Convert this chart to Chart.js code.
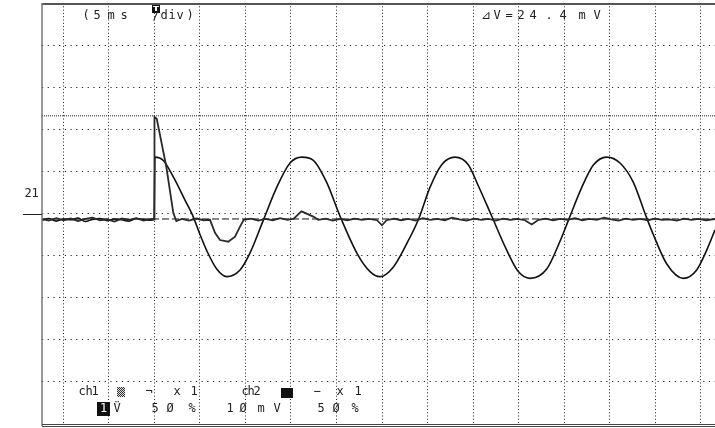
<!DOCTYPE html>
<html>
<head>
<meta charset="utf-8">
<script src="https://cdn.jsdelivr.net/npm/chart.js@4.4.1/dist/chart.umd.min.js"></script>
<style>
  html, body { margin: 0; padding: 0; background: #fff; }
  #wrap { width: 715px; height: 428px; position: relative; }
</style>
</head>
<body>
<div id="wrap"><canvas id="ScopeChart"></canvas></div>
<script>
// time in ms (5 ms/div), level in mV (10 mV/div), trigger at t = 0
const sineTime = [-12.4, -11.6, -10.8, -10.0, -9.2, -8.4, -7.6, -6.8, -6.0, -5.2, -4.4, -3.6, -2.8, -2.0, -1.2, -0.4, -0.05,
  0.05, 0.97, 2.07, 3.35, 4.26, 5.0, 5.74, 6.84, 7.93, 9.4, 10.49, 11.92, 13.43, 14.89, 16.18, 17.42, 18.92, 20.38,
  22.36, 23.68, 24.78, 26.21, 27.71, 28.99, 30.27, 31.56, 33.02, 34.48, 35.58, 37.05, 38.7, 39.98, 41.26, 43.1, 44.56,
  45.47, 46.95, 48.22, 49.69, 51.15, 52.62, 53.9, 54.81, 56.29, 58.11, 59.58, 60.68, 61.59]
const sineVolts = [-1.6, -1.2, -1.8, -1.3, -1.5, -1.1, -1.9, -1.4, -1.2, -1.7, -1.3, -1.5, -1.8, -1.2, -1.4, -1.6, -1.4,
  13.4, 12.6, 8.7, 3.2, -0.8, -5.0, -8.8, -13.2, -15.0, -13.4, -9.4, -1.8, 6.2, 12.0, 13.4, 12.7, 7.4, -0.6,
  -9.9, -13.8, -15.0, -12.8, -7.2, -1.5, 6.2, 11.6, 13.4, 11.6, 6.6, -0.6, -8.7, -13.8, -15.4, -13.2, -6.6,
  -1.7, 6.2, 11.5, 13.4, 12.0, 7.4, 0.0, -5.0, -12.0, -15.4, -13.4, -8.7, -3.9]

const spikeTime = [-12.4, -11.6, -10.8, -10.0, -9.2, -8.4, -7.6, -6.8, -6.0, -5.2, -4.4, -3.6, -2.8, -2.0, -1.2, -0.4, -0.05,
  0.0, 0.25, 1.3, 2.07, 2.4, 3.0, 3.8, 4.6, 5.4, 6.1, 6.65, 7.2, 8.1, 8.85, 9.4, 9.8, 10.6, 11.4, 12.2, 13.0, 13.8,
  14.6, 15.3, 16.15, 16.6, 17.5, 18.0, 18.8, 19.6, 20.4, 21.2, 22.0, 22.8, 23.6, 24.45, 25.0, 25.5, 26.3, 27.1, 27.9,
  28.7, 29.5, 30.3, 31.1, 31.9, 32.7, 33.5, 34.3, 35.1, 35.9, 36.7, 37.5, 38.3, 39.1, 39.9, 40.7, 41.45, 42.2, 43.0,
  43.8, 44.6, 45.4, 46.2, 47.0, 47.8, 48.6, 49.4, 50.2, 51.0, 51.8, 52.6, 53.4, 54.2, 55.0, 55.8, 56.6, 57.4, 58.2,
  59.0, 59.8, 60.6, 61.6]
const spikeVolts = [-1.3, -1.7, -1.1, -1.6, -1.2, -1.8, -1.3, -1.0, -1.6, -1.4, -1.9, -1.2, -1.5, -1.1, -1.7, -1.3, -1.4,
  22.9, 22.5, 11.1, 0.1, -1.8, -1.3, -1.7, -1.2, -1.6, -1.5, -4.6, -6.3, -6.7, -5.5, -3.1, -1.5, -1.2, -1.7, -1.3, -1.6, -1.1,
  -1.5, -1.2, 0.5, 0.1, -0.8, -1.5, -1.2, -1.7, -1.3, -1.6, -1.2, -1.5, -1.3, -1.6, -2.8, -1.6, -1.2, -1.6, -1.3,
  -1.7, -1.1, -1.5, -1.3, -1.6, -1.0, -1.4, -1.7, -1.2, -1.5, -1.3, -1.7, -1.2, -1.5, -1.3, -1.6, -2.6, -1.5, -1.2,
  -1.6, -1.3, -1.5, -1.1, -1.6, -1.3, -1.5, -1.0, -1.4, -1.7, -1.2, -1.5, -1.3, -1.6, -1.2, -1.5, -1.4, -1.7, -1.2,
  -1.5, -1.3, -1.6, -1.3]

// horizontal cursors (mV): dashed one and dotted one
const cursorLevels = [-1.3, 23.2]
const timeLimits = [-12.36, 61.59]
const levelLimits = [-50, 50]

const toPoints = (xs, ys) => xs.map((x, i) => ({ x: x, y: ys[i] }))

const labelText = (ctx, ch, x, y, color) => {
	ctx.fillStyle = color || "#222"
	ctx.fillText(ch, x, y)
}

const scopeDecor = {
	id: "scopeDecor",
	afterDraw(chart) {
		const ctx = chart.ctx
		const area = chart.chartArea
		const xs = chart.scales.x
		const ys = chart.scales.y
		ctx.save()

		// frame
		ctx.strokeStyle = "#555"
		ctx.lineWidth = 2
		ctx.beginPath()
		ctx.moveTo(area.left, area.top + 1)
		ctx.lineTo(area.right, area.top + 1)
		ctx.stroke()
		ctx.lineWidth = 1.5
		ctx.strokeStyle = "#777"
		ctx.beginPath()
		ctx.moveTo(area.left, area.top)
		ctx.lineTo(area.left, area.bottom + 2)
		ctx.stroke()
		ctx.lineWidth = 1
		ctx.strokeStyle = "#444"
		ctx.beginPath()
		ctx.moveTo(area.left, area.bottom + 0.5)
		ctx.lineTo(area.right, area.bottom + 0.5)
		ctx.moveTo(area.left, area.bottom + 2.5)
		ctx.lineTo(area.right, area.bottom + 2.5)
		ctx.stroke()

		// ground marker
		const gy = Math.round(ys.getPixelForValue(0)) + 0.5
		ctx.strokeStyle = "#222"
		ctx.beginPath()
		ctx.moveTo(23, gy)
		ctx.lineTo(area.left, gy)
		ctx.stroke()

		ctx.font = '12px "DejaVu Sans Mono"'
		ctx.textAlign = "center"
		ctx.textBaseline = "middle"
		labelText(ctx, "2", 28, gy - 21)
		labelText(ctx, "1", 35, gy - 21)

		// trigger marker
		const tx = Math.round(xs.getPixelForValue(0))
		ctx.fillStyle = "#111"
		ctx.fillRect(tx - 2, 5, 8, 8)
		ctx.fillStyle = "#fff"
		ctx.fillRect(tx - 1, 6, 6, 1)
		ctx.fillRect(tx + 1, 6, 2, 5)

		// top texts
		const topRow = [["(", 86], ["5", 97], ["m", 111], ["s", 124], ["/", 156], ["d", 164], ["i", 172], ["v", 180], [")", 190]]
		topRow.forEach(([c, x]) => labelText(ctx, c, x, 16))
		const deltaRow = [["⊿", 486], ["V", 497], ["=", 509], ["2", 521], ["4", 533], [".", 549], ["4", 563], ["m", 582], ["V", 597]]
		deltaRow.forEach(([c, x]) => labelText(ctx, c, x, 16))

		// bottom status rows
		const row1 = [["c", 82], ["h", 89], ["1", 95], ["¬", 149], ["x", 177], ["1", 194],
			["c", 245], ["h", 251], ["2", 257], ["−", 317], ["x", 340], ["1", 358]]
		row1.forEach(([c, x]) => labelText(ctx, c, x, 392))
		// ch1 checker swatch
		for (let i = 0; i < 8; i++) {
			for (let j = 0; j < 10; j++) {
				ctx.fillStyle = (i + j) % 2 ? "#ddd" : "#333"
				ctx.fillRect(117 + i, 387 + j, 1, 1)
			}
		}
		ctx.fillStyle = "#111"
		ctx.fillRect(281, 388, 12, 10)

		ctx.fillStyle = "#111"
		ctx.fillRect(97, 402, 13, 14)
		labelText(ctx, "1", 103.5, 409, "#fff")
		const row2 = [["V\u0308", 117], ["5", 155], ["Ø", 170], ["%", 192], ["1", 230], ["Ø", 243], ["m", 261],
			["V", 277], ["5", 321], ["Ø", 336], ["%", 355]]
		row2.forEach(([c, x]) => labelText(ctx, c, x, 409))

		ctx.restore()
	},
}

const ctx = document.getElementById("ScopeChart").getContext("2d")

new Chart(ctx, {
	type: "line",
	data: {
		datasets: [
			{
				label: "spike",
				data: toPoints(spikeTime, spikeVolts),
				borderColor: "#2a2a2a",
				borderWidth: 1.8,
				tension: 0,
				pointRadius: 0,
			},
			{
				label: "sine",
				data: toPoints(sineTime, sineVolts),
				borderColor: "#111",
				borderWidth: 1.6,
				cubicInterpolationMode: "monotone",
				pointRadius: 0,
			},
			{
				label: "cursor 1",
				data: toPoints(timeLimits, [cursorLevels[0], cursorLevels[0]]),
				borderColor: "#111",
				borderWidth: 1,
				borderDash: [7, 3],
				pointRadius: 0,
			},
			{
				label: "cursor 2",
				data: toPoints(timeLimits, [cursorLevels[1], cursorLevels[1]]),
				borderColor: "#222",
				borderWidth: 1,
				borderDash: [1, 1],
				pointRadius: 0,
			},
		],
	},
	options: {
		responsive: true,
		maintainAspectRatio: false,
		animation: false,
		layout: { autoPadding: false, padding: { left: 42, top: 3, right: 0, bottom: 4 } },
		plugins: { legend: { display: false }, tooltip: { enabled: false } },
		scales: {
			x: {
				type: "linear",
				min: timeLimits[0],
				max: timeLimits[1],
				ticks: { display: false, stepSize: 5, includeBounds: false },
				grid: { color: "#222", lineWidth: 1, drawTicks: false },
				border: { display: false, dash: [1, 2.3] },
			},
			y: {
				type: "linear",
				min: levelLimits[0],
				max: levelLimits[1],
				ticks: { display: false, stepSize: 10 },
				grid: { color: "#222", lineWidth: 1, drawTicks: false },
				border: { display: false, dash: [1.2, 4.5] },
			},
		},
	},
	plugins: [scopeDecor],
})
</script>
</body>
</html>
